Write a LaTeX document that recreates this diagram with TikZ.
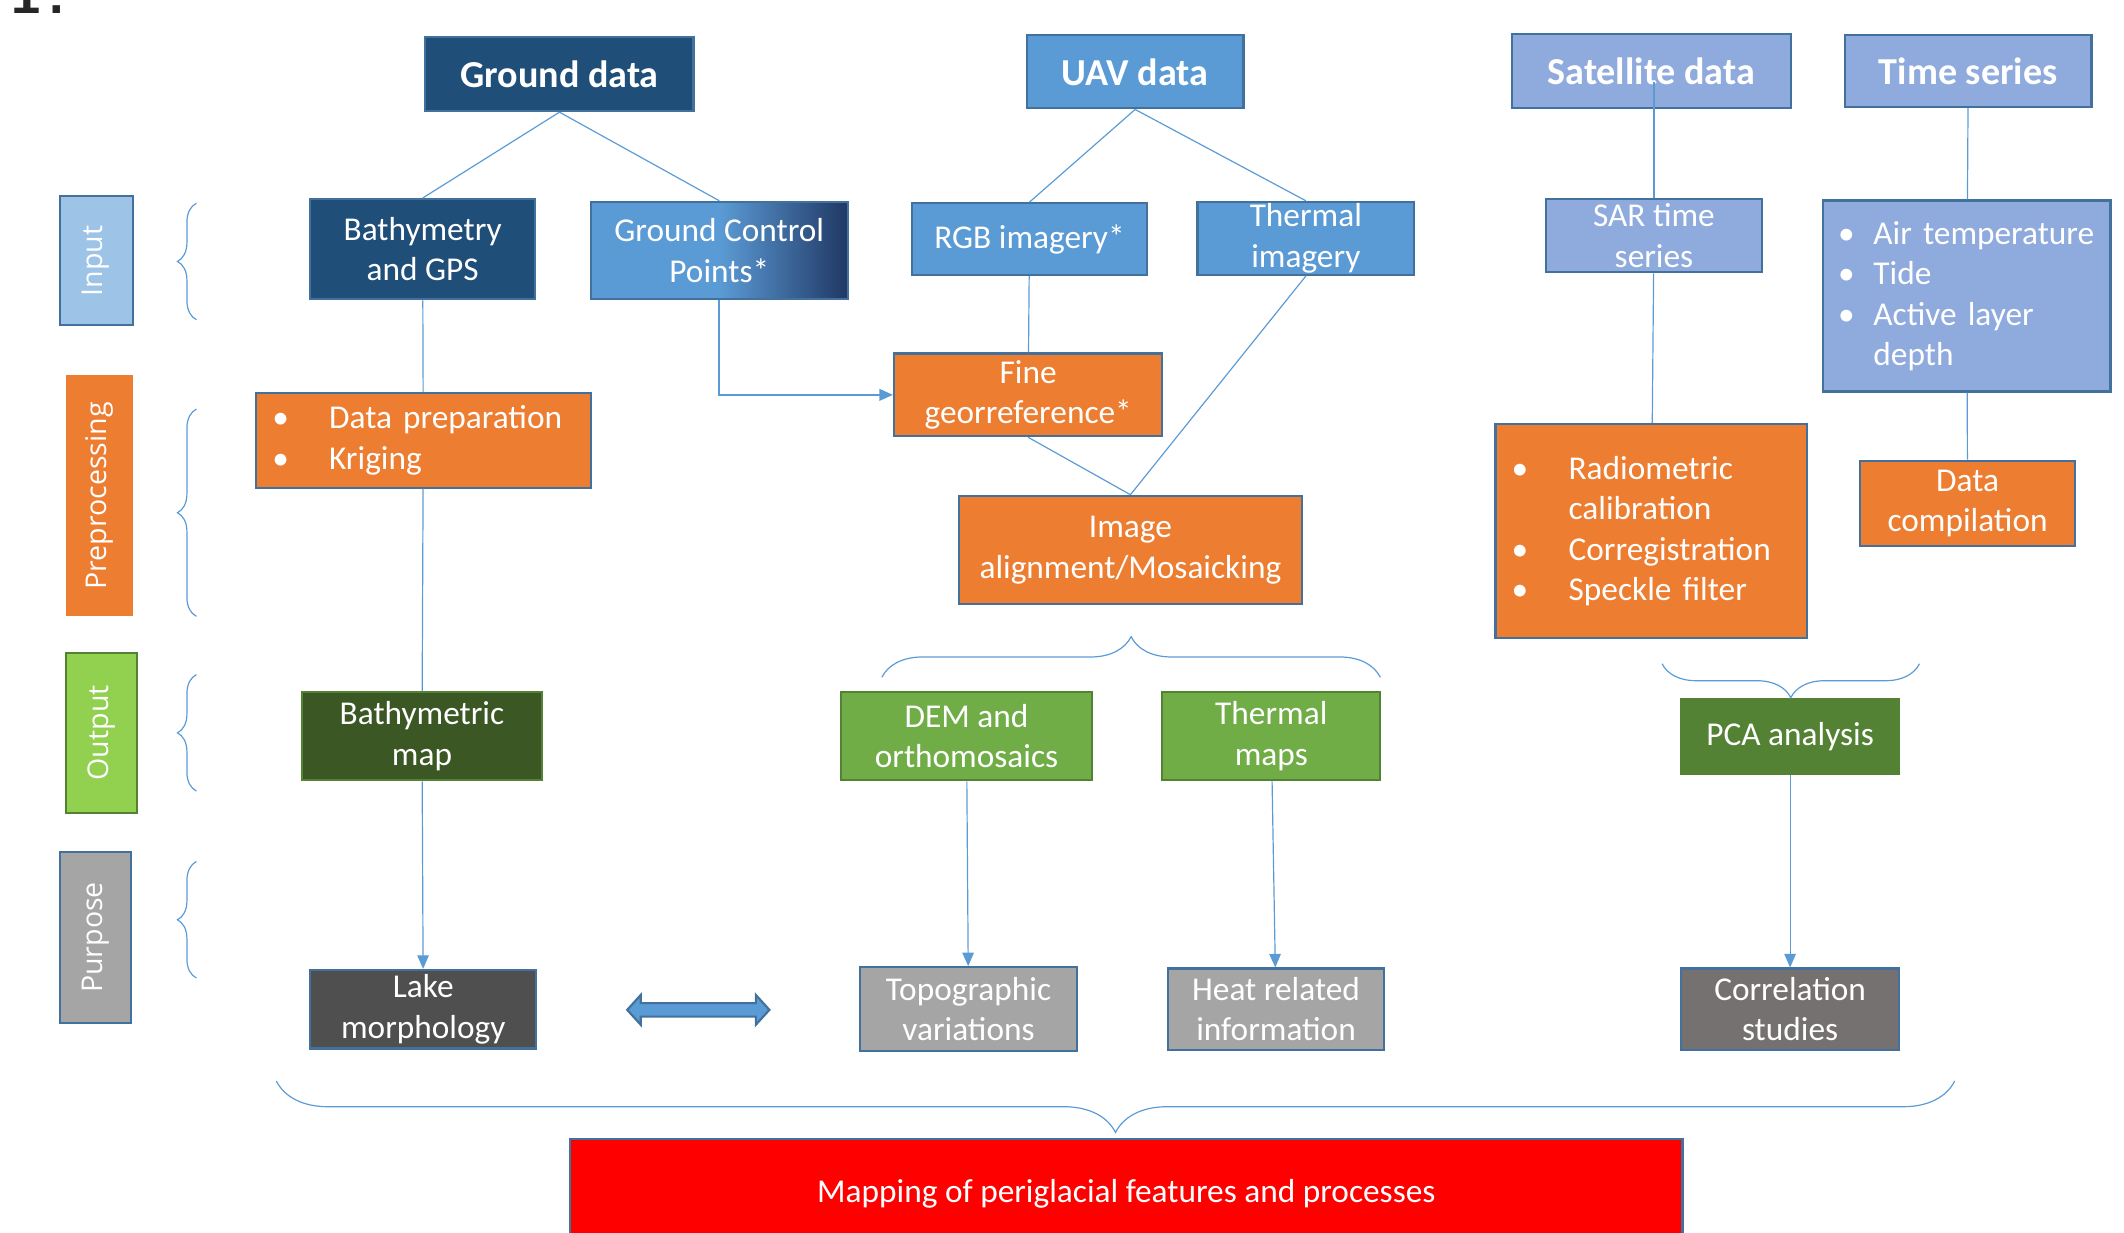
\documentclass[tikz,border=0pt]{standalone}
\usepackage{fontspec}
\setmainfont{Carlito}
\newfontfamily\labfont{Open Sans}
\newfontfamily\tagfont{Liberation Sans}
\usetikzlibrary{arrows.meta,decorations.pathreplacing}
\definecolor{navy}{HTML}{1F4E79}
\definecolor{deep}{HTML}{203864}
\definecolor{uav}{HTML}{5B9BD5}
\definecolor{sat}{HTML}{8FAADC}
\definecolor{inlab}{HTML}{9DC3E6}
\definecolor{proc}{HTML}{ED7D31}
\definecolor{edge}{HTML}{41719C}
\definecolor{outlab}{HTML}{92D050}
\definecolor{leaf}{HTML}{70AD47}
\definecolor{moss}{HTML}{3A5724}
\definecolor{pca}{HTML}{548235}
\definecolor{ash}{HTML}{A5A5A5}
\definecolor{coal}{HTML}{4F4F4F}
\definecolor{slate}{HTML}{767171}
\definecolor{ink}{HTML}{262626}
\newcommand{\bitem}[2]{\makebox[#1][l]{\textbullet}\mbox{#2}}
\begin{document}
\begin{tikzpicture}[x=0.2mm,y=-0.2mm,
    box/.style={draw=edge,line width=0.9pt,text=white,align=center,inner sep=0pt,
      font=\fontsize{14}{17}\selectfont},
    head/.style={box,font=\fontsize{16}{19}\selectfont\bfseries},
    lab/.style={rotate=90,text=white,inner sep=0pt,font=\labfont\fontsize{12}{14}\selectfont},
    link/.style={uav,line width=0.5pt},
    flow/.style={link,-{Triangle[length=2mm,width=1.7mm]}},
    brc/.style={link,decorate,decoration={brace,amplitude=#1}}]
  \useasboundingbox (0,0) rectangle (1568,910);
  \node[anchor=base west,text=ink,inner sep=0pt,font=\tagfont\fontsize{22}{26}\selectfont\bfseries] (panel) at (8,10) {1\kern4pt.};
  % row labels
  \node[lab,fill=inlab,draw=edge,line width=0.9pt,minimum width=19mm,minimum height=10.8mm] (lin) at (71,192.5) {Input};
  \node[lab,fill=proc,minimum width=35.6mm,minimum height=9.8mm] (lpre) at (73.5,366) {Preprocessing};
  \node[lab,fill=outlab,draw=pca,line width=0.9pt,minimum width=23.6mm,minimum height=10.4mm] (lout) at (75,541) {Output};
  \node[lab,fill=ash,draw=edge,line width=0.9pt,minimum width=25.2mm,minimum height=10.6mm] (lpur) at (70.5,692) {Purpose};
  \draw[brc=2.8mm] (145,236) -- (145,150);
  \draw[brc=2.8mm] (145,455) -- (145,302);
  \draw[brc=2.8mm] (145,584) -- (145,498);
  \draw[brc=2.8mm] (145,722) -- (145,636);
  % sources
  \node[head,fill=navy,minimum width=39.6mm,minimum height=11mm] (ground) at (413,54.5) {Ground data};
  \node[head,fill=uav,minimum width=32mm,minimum height=10.8mm] (uavd) at (838,53) {UAV data};
  \node[head,fill=sat,minimum width=41.2mm,minimum height=11mm] (satd) at (1219,52.5) {Satellite data};
  \node[head,fill=sat,minimum width=36.4mm,minimum height=10.6mm] (tser) at (1453,52.5) {Time series};
  % input
  \node[box,fill=navy,minimum width=33.2mm,minimum height=14.8mm] (bath) at (312,184) {Bathymetry\\and GPS};
  \node[box,left color=uav,right color=deep,middle color=uav,minimum width=38mm,minimum height=14.4mm] (gcp) at (531,185) {Ground Control\\Points*};
  \node[box,fill=uav,minimum width=34.8mm,minimum height=10.6mm] (rgb) at (760,176.5) {RGB imagery*};
  \node[box,fill=uav,minimum width=32mm,minimum height=10.8mm] (thim) at (964,176) {Thermal\\imagery};
  \node[box,fill=sat,minimum width=32mm,minimum height=10.8mm] (sar) at (1221,174) {SAR time\\series};
  \node[box,fill=sat,align=left,text width=38mm,inner xsep=2.2mm,minimum height=28.2mm] (meteo) at (1452,218.5)
    {\bitem{5.2mm}{Air temperature}\\\bitem{5.2mm}{Tide}\\\bitem{5.2mm}{Active layer}\\\hspace*{5.2mm}depth};
  % preprocessing
  \node[box,fill=proc,align=left,text width=44.6mm,inner xsep=2.4mm,minimum height=14mm] (prep) at (312.5,325)
    {\bitem{8.4mm}{Data preparation}\\\bitem{8.4mm}{Kriging}};
  \node[box,fill=proc,minimum width=39.6mm,minimum height=12.2mm] (fine) at (759,291.5) {Fine\\georreference*};
  \node[box,fill=proc,minimum width=50.6mm,minimum height=16mm] (mosaic) at (834.5,406) {Image\\alignment/Mosaicking};
  \node[box,fill=proc,align=left,text width=41.2mm,inner xsep=2.4mm,minimum height=31.6mm] (radio) at (1219,392)
    {\bitem{8.4mm}{Radiometric}\\\hspace*{8.4mm}calibration\\\bitem{8.4mm}{Corregistration}\\\bitem{8.4mm}{Speckle filter}};
  \node[box,fill=proc,minimum width=31.8mm,minimum height=12.6mm] (comp) at (1452.5,371.5) {Data\\compilation};
  % output
  \node[box,fill=moss,draw=pca,minimum width=35.4mm,minimum height=13mm] (bmap) at (311.5,543.5) {Bathymetric\\map};
  \node[box,fill=leaf,draw=pca,minimum width=37mm,minimum height=13mm] (dem) at (713.5,543.5) {DEM and\\orthomosaics};
  \node[box,fill=leaf,draw=pca,minimum width=32.2mm,minimum height=13mm] (tmap) at (938.5,543.5) {Thermal\\maps};
  \node[box,fill=pca,draw=pca,minimum width=32.2mm,minimum height=11mm] (pcaa) at (1321.5,543.5) {PCA analysis};
  % purpose
  \node[box,fill=coal,minimum width=33.4mm,minimum height=11.6mm] (lake) at (312.5,745) {Lake\\morphology};
  \node[box,fill=ash,minimum width=32mm,minimum height=12.4mm] (topo) at (715,745) {Topographic\\variations};
  \node[box,fill=ash,minimum width=32mm,minimum height=12mm] (heat) at (942,745) {Heat related\\information};
  \node[box,fill=slate,minimum width=32.2mm,minimum height=12mm] (corr) at (1321.5,745) {Correlation\\studies};
  \node[box,fill=red,minimum width=164.2mm,minimum height=16mm] (goal) at (831.5,881)
    {Mapping of periglacial features and processes};
  % connectors
  \draw[link] (ground.south) -- (bath.north);
  \draw[link] (ground.south) -- (gcp.north);
  \draw[link] (bath) -- (prep);
  \draw[link] (prep) -- (bmap);
  \draw[flow] (bmap) -- (lake);
  \draw[flow,line width=0.8pt] (gcp.south) |- (fine.west);
  \draw[link] (uavd.south) -- (rgb.north);
  \draw[link] (uavd.south) -- (thim.north);
  \draw[link] (rgb) -- (fine);
  \draw[link] (fine.south) -- (mosaic.north);
  \draw[link] (thim.south) -- (mosaic.north);
  \draw[flow] (dem) -- (topo);
  \draw[flow] (tmap) -- (heat);
  \draw[link] (sar.north) -- ++(0,-86);
  \draw[link] (sar) -- (radio);
  \draw[flow] (pcaa) -- (corr);
  \draw[link] (tser) -- (meteo);
  \draw[link] (meteo) -- (comp);
  \draw[brc=6mm] (651,500) -- (1019,500);
  \draw[brc=5mm] (1417,490) -- (1227,490);
  \draw[brc=7.6mm] (1443,798) -- (204,798);
  % two-way link
  \draw[fill=uav,draw=edge,line width=0.9pt] (463,745.5) -- (473,734.5) -- (473,740.5) -- (558,740.5) -- (558,734.5)
    -- (568,745.5) -- (558,756.5) -- (558,750.5) -- (473,750.5) -- (473,756.5) -- cycle;
\end{tikzpicture}
\end{document}
